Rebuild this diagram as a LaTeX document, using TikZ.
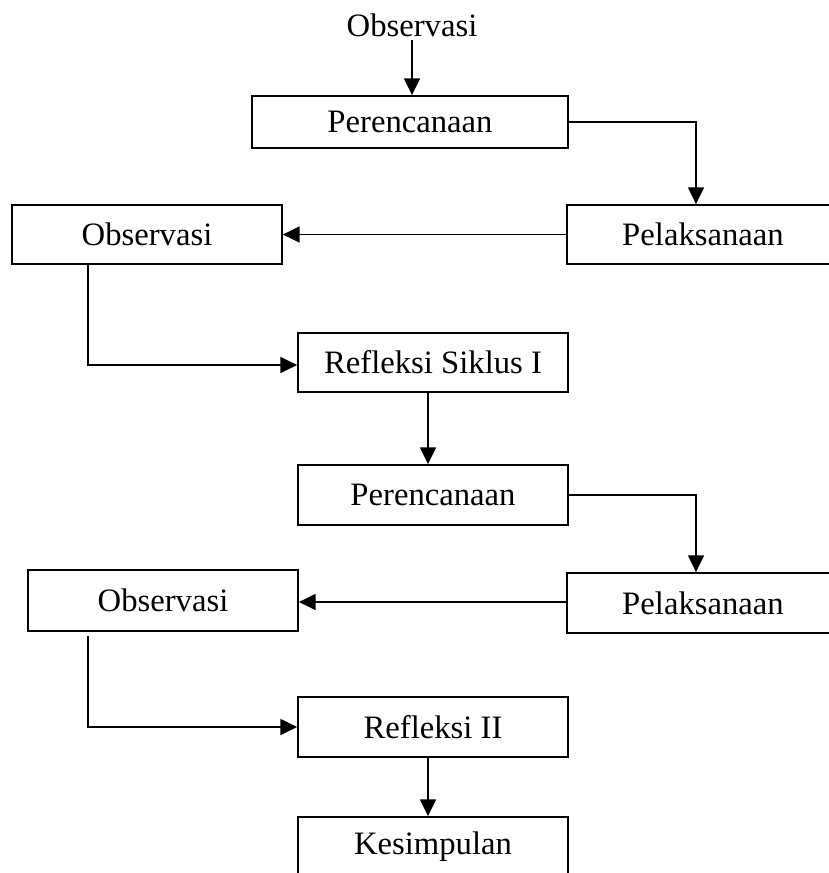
\documentclass[tikz,border=0pt]{standalone}
\usepackage{fontspec}
\setmainfont{Liberation Serif}
\usepackage{tikz}
\usetikzlibrary{arrows.meta}
\tikzset{
  box/.style={draw,line width=1pt,rectangle,inner sep=0pt,minimum width=5.4cm,minimum height=1.18cm},
  lbl/.style={inner sep=0.2em},
  arr/.style={line width=1pt,-{Triangle[length=9.5pt,width=9pt]}},
  lnk/.style={line width=1pt}
}
\begin{document}
\begin{tikzpicture}[x=0.02cm,y=-0.02cm,font=\fontsize{18.6}{22}\selectfont]
\useasboundingbox (0,0) rectangle (829,873);
\clip (0,0) rectangle (829,873);
% first cycle
\node[lbl] (obs0) at (412,25) {Observasi};
\node[box,minimum width=6.32cm,minimum height=1.04cm] (per1) at (410,122) {Perencanaan};
\node[box,minimum width=5.44cm] (pel1) at (703,234.5) {Pelaksanaan};
\node[box] (obs1) at (147,234.5) {Observasi};
\node[box] (ref1) at (433,362.5) {Refleksi Siklus I};
% second cycle
\node[box,minimum height=1.2cm] (per2) at (433,495) {Perencanaan};
\node[box,minimum width=5.44cm,minimum height=1.2cm] (pel2) at (703,603) {Pelaksanaan};
\node[box,minimum height=1.22cm] (obs2) at (163,600.5) {Observasi};
\node[box,minimum height=1.2cm] (ref2) at (433,727) {Refleksi II};
\node[box,minimum height=1.2cm] (kes) at (433,847) {Kesimpulan};

\draw[arr] (obs0.south) -- (obs0.south |- per1.north);
\draw[arr] (per1.east) -| ([xshift=-0.14cm]pel1.north);
\draw[arr] (pel1.west) -- (obs1.east);
\draw[arr] ([xshift=-1.18cm]obs1.south) |- ([yshift=-0.05cm]ref1.west);
\draw[arr] ([xshift=-0.1cm]ref1.south) -- ([xshift=-0.1cm]per2.north);
\draw[arr] (per2.east) -| ([xshift=-0.14cm]pel2.north);
\draw[arr] ([yshift=0.02cm]pel2.west) -- ([yshift=0.02cm]pel2.west -| obs2.east);
\draw[arr] ([xshift=-1.5cm,yshift=-0.08cm]obs2.south) |- (ref2.west);
\draw[arr] ([xshift=-0.1cm]ref2.south) -- ([xshift=-0.1cm]kes.north);
\end{tikzpicture}
\end{document}
